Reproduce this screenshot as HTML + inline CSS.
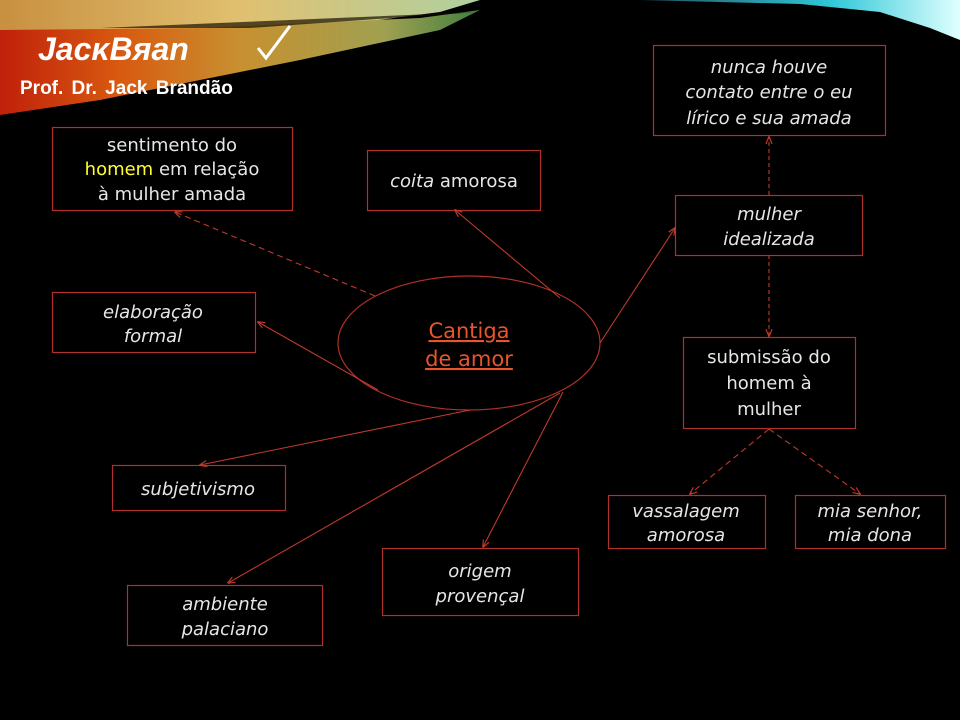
<!DOCTYPE html>
<html><head><meta charset="utf-8"><style>
html,body{margin:0;padding:0;background:#000;}
svg{display:block}
text{font-family:"DejaVu Sans","Liberation Sans",sans-serif;font-size:18px;fill:#e6e6e6;text-anchor:middle;}
.i{font-style:italic}
</style></head><body>
<svg width="960" height="720" viewBox="0 0 960 720" xmlns="http://www.w3.org/2000/svg">
<defs>
<linearGradient id="warm" x1="0" y1="0" x2="1" y2="0">
<stop offset="0" stop-color="#c0200a"/><stop offset="0.25" stop-color="#d85a10"/><stop offset="0.5" stop-color="#c89030"/><stop offset="0.8" stop-color="#a0a050"/><stop offset="1" stop-color="#408040"/>
</linearGradient>
<linearGradient id="top" x1="0" y1="0" x2="1" y2="0">
<stop offset="0" stop-color="#c89040"/><stop offset="0.5" stop-color="#e0c070"/><stop offset="1" stop-color="#b0d0a0"/>
</linearGradient>
<linearGradient id="cyan" x1="0" y1="0" x2="1" y2="0">
<stop offset="0" stop-color="#205060"/><stop offset="0.6" stop-color="#30c8d8"/><stop offset="1" stop-color="#e0ffff"/>
</linearGradient>
<marker id="a" viewBox="0 0 10 10" refX="9" refY="5" markerWidth="7" markerHeight="7" orient="auto"><path d="M0,1 L10,5 L0,9" fill="none" stroke="#c0392b" stroke-width="1.5"/></marker>
</defs>
<path d="M0,0 L480,0 L440,12 L300,30 L120,35 L0,38 Z" fill="url(#top)"/>
<path d="M0,30 L200,28 L420,18 L480,10 L440,30 L300,60 L200,80 L100,100 L0,115 Z" fill="url(#warm)"/>
<path d="M100,28 L480,12 L420,16 L250,28 Z" fill="#1a1000" opacity="0.7"/>
<path d="M640,0 L960,0 L960,40 L930,28 L880,12 L800,4 Z" fill="url(#cyan)"/>
<text x="38" y="60" style="text-anchor:start;font-family:'Liberation Sans',sans-serif;font-size:32px;font-weight:bold;font-style:italic;fill:#fff">JacκBяan</text>
<path d="M258,48 L266,58 L290,26" fill="none" stroke="#fff" stroke-width="3"/>
<text x="20" y="94" style="text-anchor:start;font-family:'Liberation Sans',sans-serif;font-size:19px;font-weight:bold;fill:#fff;word-spacing:3px">Prof. Dr. Jack Brandão</text>

<g fill="none" stroke="#b0302a" stroke-width="1.2">
<rect x="52.5" y="127.5" width="240" height="83"/>
<rect x="367.5" y="150.5" width="173" height="60"/>
<rect x="52.5" y="292.5" width="203" height="60"/>
<rect x="112.5" y="465.5" width="173" height="45"/>
<rect x="127.5" y="585.5" width="195" height="60"/>
<rect x="382.5" y="548.5" width="196" height="67"/>
<rect x="675.5" y="195.5" width="187" height="60"/>
<rect x="653.5" y="45.5" width="232" height="90"/>
<rect x="683.5" y="337.5" width="172" height="91"/>
<rect x="608.5" y="495.5" width="157" height="53"/>
<rect x="795.5" y="495.5" width="150" height="53"/>
<ellipse cx="469" cy="343" rx="131" ry="67"/>
</g>
<g fill="none" stroke="#c0392b" stroke-width="1.1" marker-end="url(#a)">
<line x1="375" y1="296" x2="175" y2="212" stroke-dasharray="6,4"/>
<line x1="560" y1="298" x2="455" y2="210"/>
<line x1="378" y1="390" x2="258" y2="322"/>
<line x1="470" y1="410" x2="200" y2="465"/>
<line x1="560" y1="393" x2="228" y2="583"/>
<line x1="563" y1="392" x2="483" y2="547"/>
<line x1="600" y1="343" x2="675" y2="228"/>
<line x1="769" y1="195" x2="769" y2="137" stroke-dasharray="4,3"/>
<line x1="769" y1="255" x2="769" y2="336" stroke-dasharray="4,3"/>
<line x1="769" y1="429" x2="690" y2="494" stroke-dasharray="6,4"/>
<line x1="769" y1="429" x2="860" y2="494" stroke-dasharray="6,4"/>
</g>

<text x="172" y="151">sentimento do</text>
<text x="172" y="175"><tspan style="fill:#ffff33">homem</tspan> em relação</text>
<text x="172" y="200">à mulher amada</text>
<text x="454" y="187"><tspan class="i">coita</tspan> amorosa</text>
<text class="i" x="153" y="318">elaboração</text>
<text class="i" x="153" y="342">formal</text>
<text class="i" x="198" y="495">subjetivismo</text>
<text class="i" x="225" y="610">ambiente</text>
<text class="i" x="225" y="635">palaciano</text>
<text class="i" x="480" y="577">origem</text>
<text class="i" x="480" y="602">provençal</text>
<text x="469" y="338" style="fill:#e8552a;font-size:21px;text-decoration:underline">Cantiga</text>
<text x="469" y="366" style="fill:#e8552a;font-size:21px;text-decoration:underline">de amor</text>
<text class="i" x="769" y="220">mulher</text>
<text class="i" x="769" y="245">idealizada</text>
<text class="i" x="769" y="73">nunca houve</text>
<text class="i" x="769" y="98">contato entre o eu</text>
<text class="i" x="769" y="124">lírico e sua  amada</text>
<text x="769" y="363">submissão  do</text>
<text x="769" y="389">homem  à</text>
<text x="769" y="415">mulher</text>
<text class="i" x="686" y="517">vassalagem</text>
<text class="i" x="686" y="541">amorosa</text>
<text class="i" x="870" y="517">mia senhor,</text>
<text class="i" x="870" y="541">mia dona</text>
</svg>
</body></html>
